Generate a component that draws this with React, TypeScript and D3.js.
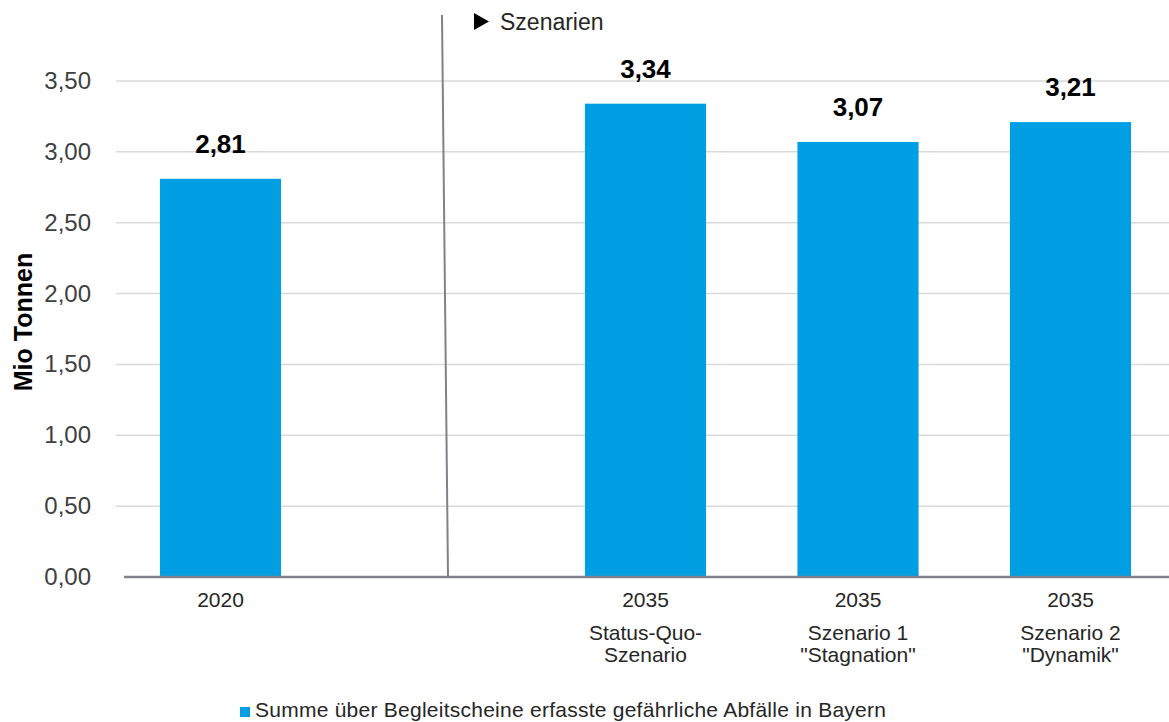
import React from "react";
import * as d3 from "d3";

const categories = ["2020", "gap", "sq", "s1", "s2"];
const values: (number | null)[] = [2.81, null, 3.34, 3.07, 3.21];
const xLabelLines: string[][] = [
  ["2020"],
  [],
  ["2035", "Status-Quo-", "Szenario"],
  ["2035", "Szenario 1", "\"Stagnation\""],
  ["2035", "Szenario 2", "\"Dynamik\""],
];
const yTicks = [0, 0.5, 1, 1.5, 2, 2.5, 3, 3.5];
const yTitle = "Mio Tonnen";
const scenarioLabel = "Szenarien";
const legendLabel = "Summe über Begleitscheine erfasste gefährliche Abfälle in Bayern";

const W = 1169;
const H = 722;
const FONT = "'Liberation Sans', Arial, sans-serif";
const BLUE = "#009fe3";

const fmt = (v: number) => d3.format(".2f")(v).replace(".", ",");

export default function App() {
  const x = d3
    .scaleBand<string>()
    .domain(categories)
    .range([114.25, 1176.75])
    .paddingInner(0.43)
    .paddingOuter(0.215);
  const y = d3.scaleLinear().domain([0, 3.5]).range([577, 81]);

  return (
    <svg
      width={W}
      height={H}
      style={{ position: "absolute", left: 0, top: 0, background: "#fff" }}
      fontFamily={FONT}
    >
      {/* gridlines */}
      {yTicks.slice(1).map((t) => (
        <line key={t} x1={116} x2={W} y1={y(t)} y2={y(t)} stroke="#d9d9d9" strokeWidth={1.5} />
      ))}
      {/* y tick labels */}
      {yTicks.map((t) => (
        <text key={t} x={91} y={y(t) + 8} textAnchor="end" fontSize={24} fill="#404040">
          {fmt(t)}
        </text>
      ))}
      {/* y title */}
      <text
        transform={`translate(32, 322) rotate(-90)`}
        textAnchor="middle"
        fontSize={25}
        fontWeight="bold"
        fill="#000"
      >
        {yTitle}
      </text>
      {/* bars */}
      {categories.map((c, i) =>
        values[i] == null ? null : (
          <rect
            key={c}
            x={x(c)}
            y={y(values[i] as number)}
            width={x.bandwidth()}
            height={y(0) - y(values[i] as number)}
            fill={BLUE}
          />
        )
      )}
      {/* value labels */}
      {categories.map((c, i) =>
        values[i] == null ? null : (
          <text
            key={c}
            x={(x(c) as number) + x.bandwidth() / 2}
            y={y(values[i] as number) - 26}
            textAnchor="middle"
            fontSize={26}
            fontWeight="bold"
            fill="#000"
          >
            {fmt(values[i] as number)}
          </text>
        )
      )}
      {/* x axis line */}
      <line x1={124} x2={W} y1={y(0)} y2={y(0)} stroke="#7f8389" strokeWidth={2.5} />
      {/* separator */}
      <line x1={442} y1={15} x2={448} y2={y(0)} stroke="#7f8389" strokeWidth={2} />
      {/* scenario label */}
      <path d="M474,13 L489,21.5 L474,30 Z" fill="#000" />
      <text x={500} y={30} fontSize={23} fill="#262626">
        {scenarioLabel}
      </text>
      {/* x labels */}
      {categories.map((c, i) => (
        <text
          key={c}
          x={(x(c) as number) + x.bandwidth() / 2}
          textAnchor="middle"
          fontSize={21}
          fill="#262626"
        >
          {xLabelLines[i].map((l, j) => (
            <tspan key={j} x={(x(c) as number) + x.bandwidth() / 2} y={607 + (j === 0 ? 0 : 11 + j * 22)}>
              {l}
            </tspan>
          ))}
        </text>
      ))}
      {/* legend */}
      <rect x={240} y={707} width={10} height={10} fill={BLUE} />
      <text x={255} y={717} fontSize={21} letterSpacing={0.25} fill="#262626">
        {legendLabel}
      </text>
    </svg>
  );
}
